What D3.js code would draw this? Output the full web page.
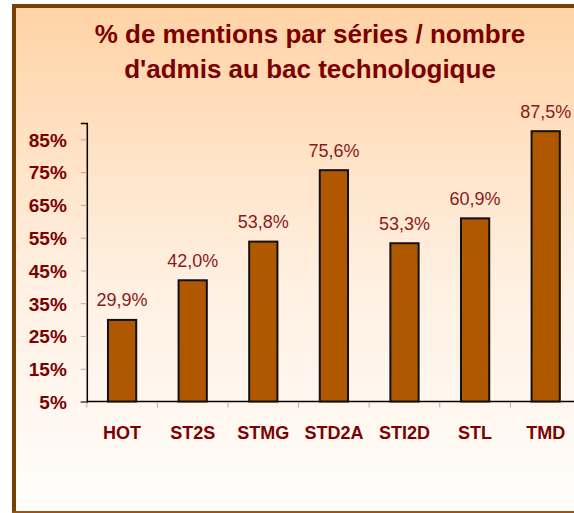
<!DOCTYPE html>
<html>
<head>
<meta charset="utf-8">
<script src="https://cdn.jsdelivr.net/npm/d3@7"></script>
<style>
  html, body { margin: 0; padding: 0; background: #fff; }
  svg { display: block; font-family: Arial, "Liberation Sans", sans-serif; }
</style>
</head>
<body>
<div id="chart"></div>
<script>
// Chart data
const categories = ["HOT", "ST2S", "STMG", "STD2A", "STI2D", "STL", "TMD"];
const values = [29.9, 42.0, 53.8, 75.6, 53.3, 60.9, 87.5];
const yTicks = [5, 15, 25, 35, 45, 55, 65, 75, 85];
const titleLines = ["% de mentions par séries / nombre", "d'admis au bac technologique"];

const width = 574;
const height = 513;

// Plot area (right edge runs past the window, like the original)
const plot = { left: 86.8, right: 581, top: 123, bottom: 401.5 };

const svg = d3.select("#chart").append("svg")
    .attr("width", width)
    .attr("height", height);

// Background gradient
const defs = svg.append("defs");
const grad = defs.append("linearGradient")
    .attr("id", "bg")
    .attr("x1", 0).attr("y1", 0).attr("x2", 0).attr("y2", 1);
grad.append("stop").attr("offset", "0%").attr("stop-color", "#ffd3a5");
grad.append("stop").attr("offset", "55%").attr("stop-color", "#fff0e2");
grad.append("stop").attr("offset", "100%").attr("stop-color", "#fffdfb");

svg.append("rect")
    .attr("x", 14).attr("y", 6)
    .attr("width", 620).attr("height", 506)
    .attr("fill", "url(#bg)");

// Frame: thick left/top, thin bottom
svg.append("rect").attr("x", 12).attr("y", 4).attr("width", 620).attr("height", 4).attr("fill", "#7b3f06");
svg.append("rect").attr("x", 12).attr("y", 4).attr("width", 4).attr("height", 509).attr("fill", "#7b3f06");
svg.append("rect").attr("x", 12).attr("y", 511).attr("width", 620).attr("height", 2).attr("fill", "#9a5516");

// Title
svg.append("g")
  .selectAll("text")
  .data(titleLines)
  .join("text")
    .attr("x", 310)
    .attr("y", (d, i) => 42.5 + i * 35.5)
    .attr("text-anchor", "middle")
    .attr("font-size", 26)
    .attr("font-weight", "bold")
    .attr("fill", "#7d0000")
    .text(d => d);

// Scales
const x = d3.scaleBand()
    .domain(categories)
    .range([plot.left, plot.right])
    .padding(0);

const y = d3.scaleLinear()
    .domain([5, 90])
    .range([plot.bottom, plot.top]);

const barW = x.bandwidth() * 0.4;

// Y axis
const yAxis = svg.append("g")
    .attr("transform", `translate(${plot.left},0)`)
    .call(d3.axisLeft(y).tickValues(yTicks).tickSize(6).tickPadding(14).tickFormat(d => d + "%"));
yAxis.select(".domain").attr("stroke", "#000").attr("stroke-width", 1.5);
yAxis.selectAll(".tick line").attr("stroke", "#aaa");
yAxis.selectAll(".tick text")
    .attr("font-size", 19)
    .attr("font-weight", "bold")
    .attr("fill", "#7d0000")
    .attr("font-family", "Arial, 'Liberation Sans', sans-serif")
    .attr("dy", "0.36em");

// X axis: ticks between categories
const xAxisG = svg.append("g");
xAxisG.append("line")
    .attr("x1", plot.left).attr("x2", plot.right)
    .attr("y1", plot.bottom).attr("y2", plot.bottom)
    .attr("stroke", "#000").attr("stroke-width", 1.5);
xAxisG.selectAll(".xt")
  .data(categories)
  .join("line")
    .attr("class", "xt")
    .attr("x1", d => x(d)).attr("x2", d => x(d))
    .attr("y1", plot.bottom + 1).attr("y2", plot.bottom + 6)
    .attr("stroke", "#aaa");
xAxisG.selectAll("text")
  .data(categories)
  .join("text")
    .attr("x", d => x(d) + x.bandwidth() / 2)
    .attr("y", 438.5)
    .attr("text-anchor", "middle")
    .attr("font-size", 18)
    .attr("font-weight", "bold")
    .attr("fill", "#7d0000")
    .text(d => d);

// Bars
const data = categories.map((c, i) => ({ cat: c, value: values[i] }));

svg.append("g")
  .selectAll("rect")
  .data(data)
  .join("rect")
    .attr("x", d => x(d.cat) + (x.bandwidth() - barW) / 2)
    .attr("y", d => y(d.value))
    .attr("width", barW)
    .attr("height", d => y(5) - y(d.value))
    .attr("fill", "#b05800")
    .attr("stroke", "#111")
    .attr("stroke-width", 2);

// Value labels
svg.append("g")
  .selectAll("text")
  .data(data)
  .join("text")
    .attr("x", d => x(d.cat) + x.bandwidth() / 2)
    .attr("y", d => y(d.value) - 13.5)
    .attr("text-anchor", "middle")
    .attr("font-size", 18)
    .attr("fill", "#8b1a1a")
    .text(d => d3.format(".1f")(d.value).replace(".", ",") + "%");
</script>
</body>
</html>
